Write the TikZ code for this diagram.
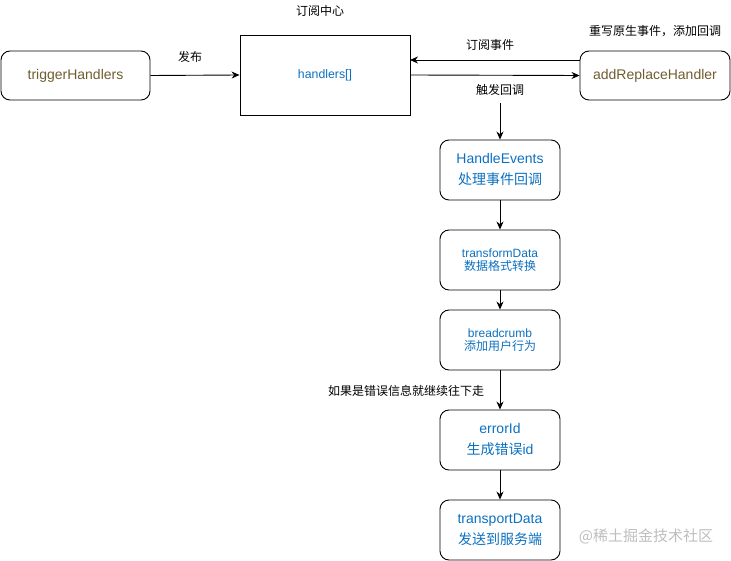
\documentclass[tikz,border=0pt]{standalone}
\usepackage{fontspec}
\setmainfont{Liberation Sans}
\newfontfamily\cjk{Noto Sans CJK SC}
\usetikzlibrary{arrows.meta}
\definecolor{olive}{RGB}{112,92,46}
\definecolor{lblue}{RGB}{12,112,192}
\definecolor{wmark}{RGB}{190,190,190}
\begin{document}
\begin{tikzpicture}[x=1pt,y=-1pt,
  rbox/.style={draw=black,line width=0.9pt,rounded corners=9pt,inner sep=0pt,align=center},
  sbox/.style={draw=black,line width=0.9pt,inner sep=0pt,align=center},
  big/.style={font=\fontsize{14}{21}\selectfont},
  small/.style={font=\fontsize{12}{13.3}\selectfont},
  lbl/.style={font=\fontsize{12}{14}\selectfont\cjk,text=black,inner sep=0pt},
  arr/.style={line width=0.9pt,-{Stealth[length=8pt,width=7pt]}}]
\useasboundingbox (0,0) rectangle (731,561);
\node[rbox,big,text=olive,minimum width=149pt,minimum height=49pt] (trig) at (75.5,75.5) {triggerHandlers};
\node[sbox,font=\fontsize{12.3}{14}\selectfont,text=lblue,minimum width=170pt,minimum height=80pt] (hand) at (325,75) {handlers[]};
\node[rbox,big,text=olive,minimum width=150pt,minimum height=49pt] (addr) at (655,75.5) {addReplaceHandler};
\node[lbl] (title) at (320,11) {订阅中心};
\node[lbl] (rew) at (655,31) {重写原生事件，添加回调};
\node[lbl] (fabu) at (190,57) {发布};
\node[lbl] (dyue) at (490,45) {订阅事件};
\node[lbl] (chuf) at (500,90) {触发回调};
\coordinate (cstart) at (500,103);
\node[rbox,big,text=lblue,minimum width=120pt,minimum height=60pt] (he) at (500,170) {HandleEvents\\{\cjk 处理事件回调}};
\node[rbox,small,text=lblue,minimum width=120pt,minimum height=60pt] (td) at (500,260) {transformData\\{\cjk 数据格式转换}};
\node[rbox,small,text=lblue,minimum width=120pt,minimum height=60pt] (bc) at (500,340) {breadcrumb\\{\cjk 添加用户行为}};
\node[rbox,big,text=lblue,minimum width=120pt,minimum height=60pt] (ei) at (500,440) {errorId\\{\cjk 生成错误}id};
\node[rbox,big,text=lblue,minimum width=120pt,minimum height=60pt] (tp) at (500,530) {transportData\\{\cjk 发送到服务端}};
\node[lbl] (ifer) at (406,391) {如果是错误信息就继续往下走};
\node[font=\fontsize{15}{18}\selectfont\cjk,text=wmark,inner sep=0pt] (wm) at (646,536) {@稀土掘金技术社区};
\coordinate (subA) at (580,60);
\coordinate (subB) at (410,60);
\draw[arr] (trig.east) -- (hand.west);
\draw[arr] (subA) -- (subB);
\draw[arr] (hand.east) -- (addr.west);
\draw[arr] (cstart) -- (he.north);
\draw[arr] (he.south) -- (td.north);
\draw[arr] (td.south) -- (bc.north);
\draw[arr] (bc.south) -- (ei.north);
\draw[arr] (ei.south) -- (tp.north);
\end{tikzpicture}
\end{document}
